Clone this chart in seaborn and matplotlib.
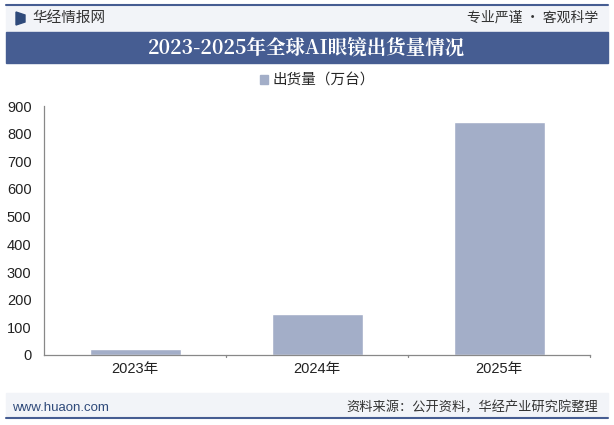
"""Global AI glasses shipments 2023-2025, bar chart."""

import matplotlib

matplotlib.use("Agg")

import matplotlib.pyplot as plt
import pandas as pd
import seaborn as sns
from matplotlib.patches import Polygon, Rectangle
from matplotlib.lines import Line2D

years = ["2023年", "2024年", "2025年"]
shipments = [20, 150, 843]
y_ticks = [0, 100, 200, 300, 400, 500, 600, 700, 800, 900]

title = "2023-2025年全球AI眼镜出货量情况"
series_name = "出货量（万台）"
brand = "华经情报网"
slogan = "专业严谨 • 客观科学"
site = "www.huaon.com"
source = "资料来源：公开资料，华经产业研究院整理"

BAR = "#a3aec8"
NAVY = "#465d92"
FONTS = ["Liberation Sans", "Noto Sans CJK SC", "DejaVu Sans"]

sns.set_style("white")
plt.rcParams["font.family"] = FONTS

df = pd.DataFrame({"year": years, "value": shipments})

fig = plt.figure(figsize=(6.14, 4.25), dpi=100)
ax = fig.add_axes([44 / 614, 1 - 355 / 425, (590 - 44) / 614, (355 - 106) / 425])

sns.barplot(data=df, x="year", y="value", color=BAR, width=0.5, saturation=1, ax=ax)
ax.set_ylim(0, 900)
ax.set_xlim(-0.5, 2.5)
ax.set_yticks(y_ticks)
ax.set_xlabel("")
ax.set_ylabel("")
ax.tick_params(axis="y", labelsize=10.5, length=4, width=0.8, color="#888888", direction="out", pad=5)
ax.tick_params(axis="x", labelsize=10.5, length=0, pad=5)
for lbl in ax.get_yticklabels() + ax.get_xticklabels():
    lbl.set_color("#222222")
for side in ("top", "right"):
    ax.spines[side].set_visible(False)
for side in ("left", "bottom"):
    ax.spines[side].set_color("#888888")
    ax.spines[side].set_linewidth(0.9)
# category separators on x axis
for xb in [0.5, 1.5, 2.5]:
    ax.plot([xb, xb], [0, -8], color="#888888", lw=0.9, clip_on=False)

# legend
ax.legend(handles=[Rectangle((0, 0), 1, 1, color=BAR)], labels=[series_name],
          loc="lower center", bbox_to_anchor=(0.5, 1.02), frameon=False,
          handlelength=0.55, handleheight=0.55, handletextpad=0.3,
          prop={"family": ["Noto Sans CJK SC"], "size": 10.5})

# header
fig.patches.append(Rectangle((0.01, 1 - 32 / 425), 0.98, 27 / 425, transform=fig.transFigure,
                             color="#f2f4f8", zorder=0))
fig.add_artist(Line2D([0.01, 0.99], [1 - 5 / 425] * 2, transform=fig.transFigure, color=NAVY, lw=1.5))
fig.patches.append(Rectangle((0.01, 1 - 63 / 425), 0.98, 31 / 425, transform=fig.transFigure,
                             color=NAVY, zorder=1))
fig.text(0.5, 1 - 48 / 425, title, ha="center", va="center", color="white", fontsize=14,
         fontweight="bold", family=["Noto Serif CJK SC", "Noto Sans CJK SC"])
# small bow-tie logo
fig.patches.append(Polygon([(16 / 614, 1 - 12 / 425), (25 / 614, 1 - 15 / 425),
                            (25 / 614, 1 - 22 / 425), (16 / 614, 1 - 25 / 425)],
                           closed=True, transform=fig.transFigure, color="#2f4a7a", zorder=2))
fig.text(32 / 614, 1 - 18 / 425, brand, ha="left", va="center", color="#333333", fontsize=10.5,
         family=["Noto Sans CJK SC"])
fig.text(598 / 614, 1 - 18 / 425, slogan, ha="right", va="center", color="#333333", fontsize=10,
         family=["Noto Sans CJK SC", "DejaVu Sans"])

# footer
fig.patches.append(Rectangle((0.01, 8 / 425), 0.98, 24 / 425, transform=fig.transFigure,
                             color="#f2f4f8", zorder=0))
fig.add_artist(Line2D([0.01, 0.99], [7 / 425] * 2, transform=fig.transFigure, color=NAVY, lw=1.5))
fig.text(12 / 614, 17 / 425, site, ha="left", va="center", color="#2f4a7a", fontsize=9.5,
         family=["Liberation Sans"])
fig.text(598 / 614, 17 / 425, source, ha="right", va="center", color="#333333", fontsize=9.5,
         family=["Noto Sans CJK SC"])

fig.savefig("out.png", dpi=100)
plt.close(fig)
